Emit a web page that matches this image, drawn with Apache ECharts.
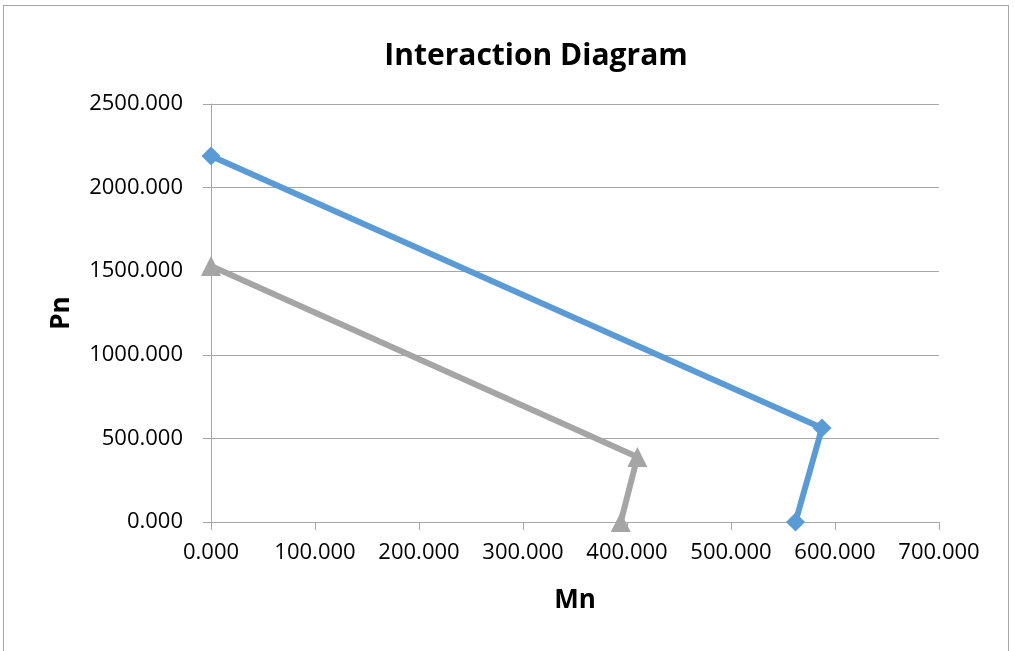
<!DOCTYPE html>
<html>
<head>
<meta charset="utf-8">
<script src="https://cdn.jsdelivr.net/npm/echarts@6/dist/echarts.min.js"></script>
<style>
html, body { margin: 0; padding: 0; background: #fff; }
#frame { position: absolute; left: 3px; top: 5px; width: 1006px; height: 660px; border: 1px solid #a6a6a6; box-sizing: border-box; }
#chart { position: absolute; left: 0; top: 0; width: 1015px; height: 651px; }
</style>
</head>
<body>
<div id="frame"></div>
<div id="chart"></div>
<script>
// series 1 (blue) and series 2 (gray): [Mn, Pn]
var blueMn = [0, 587.5, 562];
var bluePn = [2189, 562, 0];
var grayMn = [0, 410, 394];
var grayPn = [1531, 389, 0];

function pairs(xs, ys){
	var out = [];
	for (var i = 0; i < xs.length; i++){
		out.push([xs[i], ys[i]]);
	}
	return out;
}

var chart = echarts.init(document.getElementById('chart'));
var font = 'Open Sans, Liberation Sans, sans-serif';
var option = {
	animation: false,
	title: {
		text: 'Interaction Diagram',
		left: 531, top: 36, textAlign: 'center',
		textStyle: { fontFamily: font, fontSize: 30, fontWeight: 'bold', color: '#000' }
	},
	grid: { left: 211, right: 76, top: 104, bottom: 129 },
	xAxis: {
		type: 'value', min: 0, max: 700, interval: 100,
		name: 'Mn', nameLocation: 'middle', nameGap: 66,
		nameTextStyle: { fontFamily: font, fontSize: 26, fontWeight: 'bold', color: '#000' },
		axisLine: { show: true, lineStyle: { color: '#a6a6a6', width: 1 } },
		axisTick: { show: true, length: 8, lineStyle: { color: '#a6a6a6' } },
		splitLine: { show: false },
		axisLabel: { fontFamily: font, fontSize: 22, color: '#000', margin: 20, formatter: function(v){ return v.toFixed(3); } }
	},
	yAxis: {
		type: 'value', min: 0, max: 2500, interval: 500,
		name: 'Pn', nameLocation: 'middle', nameGap: 136, nameRotate: 90,
		nameTextStyle: { fontFamily: font, fontSize: 26, fontWeight: 'bold', color: '#000' },
		axisLine: { show: true, lineStyle: { color: '#a6a6a6', width: 1 } },
		axisTick: { show: true, length: 8, lineStyle: { color: '#a6a6a6' } },
		splitLine: { show: true, lineStyle: { color: '#a6a6a6', width: 1 } },
		axisLabel: { fontFamily: font, fontSize: 22, color: '#000', margin: 28, formatter: function(v){ return v.toFixed(3); } }
	},
	series: [
		{
			type: 'line', data: pairs(blueMn, bluePn),
			symbol: 'diamond', symbolSize: 19,
			lineStyle: { color: '#5b9bd5', width: 6 },
			itemStyle: { color: '#5b9bd5' }
		},
		{
			type: 'line', data: pairs(grayMn, grayPn),
			symbol: 'triangle', symbolSize: 20,
			lineStyle: { color: '#a5a5a5', width: 6 },
			itemStyle: { color: '#a5a5a5' }
		}
	]
};
chart.setOption(option);
</script>
</body>
</html>
